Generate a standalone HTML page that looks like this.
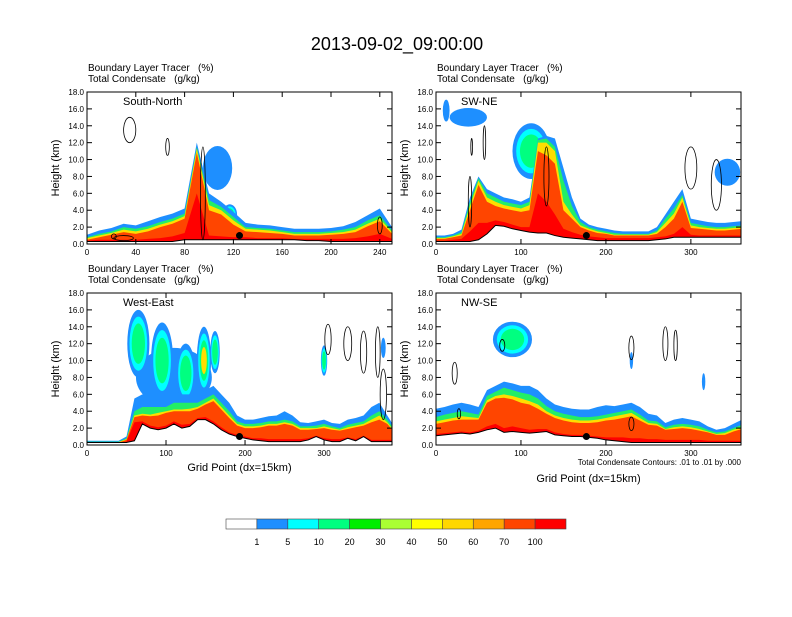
<!DOCTYPE html>
<html><head><meta charset="utf-8"><style>
body{margin:0;background:#fff}
svg text{font-family:"Liberation Sans",sans-serif;white-space:pre}
</style></head><body>
<svg id="fig" width="792" height="612" viewBox="0 0 792 612" xmlns="http://www.w3.org/2000/svg">
<text x="397" y="50" font-size="18" text-anchor="middle">2013-09-02_09:00:00</text>
<g id="panels"></g>
<g id="cbar"></g>
</svg>
<script>
const NS="http://www.w3.org/2000/svg";
const levelColors=["#1e8fff","#22ee66","#ffdd00","#ff4500","#ff0000"];
const blobColors=["#1e8fff","#00ffff","#00ff80","#ffdd00","#ff4500"];
const cbColors=["#ffffff","#1e8fff","#00ffff","#00ff80","#00ee00","#aaff33","#ffff00","#ffd700","#ffa500","#ff4500","#ff0000"];
const cbLabels=["1","5","10","20","30","40","50","60","70","100"];
const yTicks=[0,2,4,6,8,10,12,14,16,18];

// Panel 1: South-North
const p1Terrain=[0.3,0.3,0.3,0.3,0.3,0.3,0.3,0.3,0.5,0.5,0.5,0.5,0.5,0.5,0.5,0.5,0.5,0.5,0.4,0.4,0.3,0.3,0.3,0.3,0.3,0.3];
const p1Blue=[1.1,1.6,1.9,2.4,2.2,2.7,3.2,3.6,4.2,12.0,6.0,5.0,3.8,2.5,2.3,2.2,2.0,1.8,1.8,1.8,1.9,2.1,2.6,3.4,4.2,2.0];
const p1Green=[0.8,1.2,1.5,2.0,1.8,2.1,2.6,3.0,3.6,11.5,5.2,4.4,3.2,2.0,1.9,1.8,1.6,1.4,1.4,1.4,1.5,1.7,2.0,2.8,3.4,1.6];
const p1Yellow=[0.7,1.0,1.3,1.7,1.5,1.8,2.3,2.7,3.3,11.3,4.6,4.0,2.8,1.8,1.7,1.6,1.4,1.2,1.2,1.2,1.3,1.4,1.7,2.4,3.0,1.4];
const p1Orange=[0.5,0.8,1.1,1.4,1.2,1.5,2.0,2.4,3.0,10.8,4.0,3.5,2.3,1.5,1.4,1.3,1.2,1.0,1.0,1.0,1.1,1.2,1.4,2.1,2.7,1.2];
const p1Red=[0.4,0.5,0.5,0.5,0.5,0.6,0.7,0.9,1.3,6.0,1.0,0.9,0.8,0.8,0.7,0.7,0.7,0.6,0.6,0.6,0.6,0.6,0.7,0.9,1.2,0.6];
const p1Blobs=[[107,9.0,12,2.6,0],[117,3.5,6,1.2,4]];
const p1Contours=[[35,13.5,5,1.5],[95,6,2,5.5],[66,11.5,1.5,1],[240,2.2,2,1],[30,0.7,8,0.3],[22,0.9,2,0.3]];
// Panel 2: SW-NE
const p2Terrain=[0.3,0.3,0.3,0.3,0.3,0.5,1.2,2.2,2.1,1.8,1.6,1.4,1.3,1.3,1.0,0.8,0.7,0.6,0.5,0.4,0.4,0.4,0.4,0.4,0.4,0.4,0.5,0.6,0.8,0.8,0.8,0.8,0.8,0.8,0.8,0.8,0.8];
const p2Blue=[1.0,1.0,1.2,1.7,5.5,8.0,6.5,6.0,5.5,5.3,5.0,5.5,12.5,12.8,12.5,9.0,5.5,3.0,2.3,2.0,1.8,1.6,1.5,1.5,1.5,1.5,2.0,3.5,5.0,6.5,3.0,2.8,2.6,2.5,2.5,2.6,2.7];
const p2Green=[0.8,0.8,1.0,1.4,5.0,7.8,6.0,5.5,5.0,4.8,4.6,5.0,12.3,12.5,11.5,7.5,4.5,2.6,2.0,1.7,1.5,1.3,1.2,1.2,1.2,1.2,1.6,3.0,4.2,5.8,2.5,2.3,2.1,2.0,2.0,2.1,2.2];
const p2Yellow=[0.7,0.7,0.9,1.2,4.5,7.5,5.5,5.0,4.6,4.4,4.2,4.6,12.0,12.0,11.0,5.0,3.5,2.2,1.8,1.5,1.3,1.1,1.1,1.1,1.1,1.1,1.4,2.5,3.6,5.5,2.2,2.0,1.9,1.8,1.8,1.9,2.0];
const p2Orange=[0.6,0.6,0.8,1.0,4.0,7.0,5.0,4.5,4.2,4.0,3.8,4.0,11.0,10.5,9.5,4.0,3.0,2.0,1.6,1.3,1.2,1.0,1.0,1.0,1.0,1.0,1.2,2.0,3.0,5.0,1.9,1.8,1.7,1.6,1.6,1.7,1.8];
const p2Red=[0.4,0.4,0.5,0.6,1.5,2.5,2.5,2.8,2.6,2.3,2.0,2.0,6.0,5.0,3.5,1.8,1.4,1.1,0.9,0.8,0.7,0.7,0.7,0.7,0.7,0.7,0.8,0.9,1.2,2.0,1.1,1.0,1.0,1.0,1.0,1.0,1.0];
const p2Blobs=[[38,15,22,1.1,0],[12,15.8,4,1.3,0],[112,11.0,22,3.3,2],[343,8.5,15,1.6,0]];
const p2Contours=[[300,9,7,2.5],[330,7,6,3],[57,12,1.5,2],[42,11.5,1,1],[130,8,3,3.5],[40,5,2,3]];
// Panel 3: West-East
const p3Terrain=[0.3,0.3,0.3,0.3,0.3,0.3,0.5,2.5,2.0,1.8,2.0,2.5,2.0,2.2,3.0,3.0,2.5,1.8,1.3,1.0,0.8,0.6,0.5,0.4,0.4,0.4,0.4,0.4,0.6,1.0,0.6,0.4,0.4,0.8,0.5,1.0,0.4,0.4,0.4,0.4];
const p3Blue=[0.5,0.5,0.5,0.5,0.5,1.0,5.5,6,6,6,6,6.5,6,6,6,6.5,7,6,5,3.5,3.0,3.0,3.2,3.4,3.5,4.0,3.5,2.7,2.6,2.8,3.0,2.6,2.5,3.0,3.2,3.5,4.5,5.0,3.5,2.0];
const p3Green=[0.4,0.4,0.4,0.4,0.4,0.8,4.0,4.5,4.5,4.5,4.5,5,5,5,5,5.5,6,5,4,2.8,2.5,2.5,2.6,2.8,2.8,3.0,2.8,2.2,2.2,2.3,2.5,2.2,2.0,2.4,2.6,2.8,3.5,4.0,3.0,1.7];
const p3Yellow=[0.35,0.35,0.35,0.35,0.35,0.7,3.5,3.7,3.6,3.8,4,4.2,4.2,4.3,4.5,5,5.5,4.5,3.5,2.5,2.2,2.2,2.3,2.5,2.5,2.7,2.5,2.0,2.0,2.0,2.2,2.0,1.8,2.1,2.3,2.5,3.0,3.5,2.7,1.5];
const p3Orange=[0.3,0.3,0.3,0.3,0.3,0.6,3.3,3.5,3.4,3.5,3.8,4,4,4,4.3,4.8,5.2,4.2,3.2,2.3,2.0,2.0,2.1,2.3,2.3,2.5,2.3,1.8,1.8,1.9,2.0,1.8,1.7,1.9,2.1,2.3,2.7,3.0,2.5,1.4];
const p3Red=[0.3,0.3,0.3,0.3,0.3,0.4,2.7,2.8,2.3,2.1,2.3,2.8,2.4,2.5,3.2,3.3,2.8,2.1,1.5,1.2,1.0,0.8,0.8,0.7,0.7,0.7,0.7,0.7,0.8,1.1,0.8,0.7,0.7,0.9,0.7,1.1,0.6,0.6,0.6,0.6];
const p3Blobs=[[110,8,48,3.5,0],[65,12,14,4,2],[95,10,14,4.5,2],[125,8.5,12,3.5,2],[148,10,9,4,3],[162,11,6,2.5,2],[300,10,4,1.8,2],[375,11.5,3,1.2,0]];
const p3Contours=[[305,12.5,4,1.8],[330,12,5,2],[350,11,4,2.5],[368,11,3,3],[375,6,4,3]];
// Panel 4: NW-SE
const p4Terrain=[1.1,1.2,1.3,1.4,1.3,1.5,1.8,2.0,1.5,1.6,1.5,1.4,1.5,1.6,1.2,1.1,1.0,1.0,0.9,0.8,0.6,0.5,0.4,0.3,0.3,0.3,0.3,0.3,0.3,0.3,0.3,0.3,0.3,0.3,0.3,0.3,0.3];
const p4Blue=[4.3,4.5,4.8,5.0,4.8,4.5,6.5,7.0,7.5,7.3,7.0,7.0,6.5,5.5,4.8,4.5,4.3,4.2,4.2,4.5,4.7,4.6,4.8,5.0,4.5,3.7,3.5,2.6,3.0,3.2,3.0,2.8,2.2,1.8,2.0,2.5,3.0];
const p4Green=[3.3,3.6,3.8,4.0,3.8,3.6,5.8,6.3,6.8,6.5,6.2,6.0,5.5,4.6,4.0,3.7,3.5,3.3,3.3,3.4,3.6,3.8,4.0,4.2,3.6,2.9,2.8,2.1,2.4,2.5,2.4,2.2,1.8,1.5,1.6,2.0,2.4];
const p4Yellow=[2.8,3.0,3.2,3.4,3.3,3.2,5.3,5.8,6.0,5.8,5.5,5.2,4.8,4.0,3.5,3.2,3.0,2.9,2.9,3.0,3.2,3.4,3.6,3.8,3.2,2.6,2.5,1.9,2.1,2.2,2.1,1.9,1.6,1.3,1.4,1.8,2.1];
const p4Orange=[2.5,2.7,2.9,3.0,3.0,3.0,5.0,5.5,5.6,5.4,5.0,4.8,4.3,3.7,3.2,2.9,2.7,2.6,2.6,2.7,2.9,3.0,3.2,3.4,2.9,2.4,2.3,1.8,1.9,2.0,1.9,1.7,1.5,1.2,1.2,1.6,1.9];
const p4Red=[1.3,1.4,1.5,1.6,1.5,1.7,2.2,2.5,2.0,2.2,2.0,1.8,1.9,1.9,1.5,1.3,1.2,1.2,1.1,1.0,0.9,0.9,0.9,0.8,0.8,0.7,0.7,0.6,0.6,0.6,0.6,0.6,0.5,0.5,0.5,0.5,0.5];
const p4Blobs=[[90,12.5,23,2.1,2],[230,10,2,1,0],[315,7.5,2,1,0]];
const p4Contours=[[22,8.5,3,1.3],[78,11.8,3,0.7],[230,11.5,3,1.4],[270,12,3,2],[282,11.8,2,1.8],[27,3.7,2,0.6],[230,2.5,3,0.8]];

const panels=[
 {name:"south-north",label:"South-North",px:87,py:92,w:305,h:152,xmax:250,xt:[0,40,80,120,160,200,240],dot:125,
  t:p1Terrain,L:[p1Blue,p1Green,p1Yellow,p1Orange,p1Red],B:p1Blobs,C:p1Contours,xl:false},
 {name:"sw-ne",label:"SW-NE",px:436,py:92,w:305,h:152,xmax:359,xt:[0,100,200,300],dot:177,
  t:p2Terrain,L:[p2Blue,p2Green,p2Yellow,p2Orange,p2Red],B:p2Blobs,C:p2Contours,xl:false},
 {name:"west-east",label:"West-East",px:87,py:293,w:305,h:152,xmax:386,xt:[0,100,200,300],dot:193,
  t:p3Terrain,L:[p3Blue,p3Green,p3Yellow,p3Orange,p3Red],B:p3Blobs,C:p3Contours,xl:true},
 {name:"nw-se",label:"NW-SE",px:436,py:293,w:305,h:152,xmax:359,xt:[0,100,200,300],dot:177,
  t:p4Terrain,L:[p4Blue,p4Green,p4Yellow,p4Orange,p4Red],B:p4Blobs,C:p4Contours,xl:true}
];
function mk(tag,attrs,parent){const e=document.createElementNS(NS,tag);for(const k in attrs)e.setAttribute(k,attrs[k]);parent.appendChild(e);return e;}
const root=document.getElementById("panels");
panels.forEach((p,pi)=>{
 const g=mk("g",{},root);
 
 
 const sx=v=>p.px+v/p.xmax*p.w, sy=v=>p.py+p.h-v/18*p.h;
 const cid="clip"+pi;
 const cp=mk("clipPath",{id:cid},g);mk("rect",{x:p.px,y:p.py,width:p.w,height:p.h},cp);
 const pg=mk("g",{"clip-path":"url(#"+cid+")"},g);
 p.B.forEach(b=>{for(let k=0;k<=b[4];k++){const f=1-k*0.2;
   const e=mk("ellipse",{cx:sx(b[0]),cy:sy(b[1]),rx:b[2]/p.xmax*p.w*f,ry:b[3]/18*p.h*f,fill:blobColors[k]},pg);
   
   }});
 p.L.forEach((arr,li)=>{
   let d="";arr.forEach((v,i)=>{d+=(i?"L":"M")+sx(i*10)+","+sy(v);});
   for(let i=p.t.length-1;i>=0;i--)d+="L"+sx(i*10)+","+sy(p.t[i]);
   const e=mk("path",{d:d+"Z",fill:levelColors[li]},pg);
   
   
 });
 let td="";p.t.forEach((v,i)=>{td+=(i?"L":"M")+sx(i*10)+","+sy(v);});
 td+="L"+sx((p.t.length-1)*10)+","+sy(0)+"L"+sx(0)+","+sy(0)+"Z";
 const tr=mk("path",{d:td,fill:"#fff",stroke:"#000","stroke-width":1},pg);
 
 
 p.C.forEach(c=>{const e=mk("ellipse",{cx:sx(c[0]),cy:sy(c[1]),rx:c[2]/p.xmax*p.w,ry:c[3]/18*p.h,fill:"none",stroke:"#000","stroke-width":0.8},pg);
   
   });
 const dot=mk("circle",{cx:sx(p.dot),cy:sy(1.0),r:3.5,fill:"#000"},pg);
 
 
 const fr=mk("rect",{x:p.px,y:p.py,width:p.w,height:p.h,fill:"none",stroke:"#000","stroke-width":1},g);
 
 
 yTicks.forEach(v=>{const y=sy(v);
   mk("line",{x1:p.px,x2:p.px+5,y1:y,y2:y,stroke:"#000"},g);
   mk("line",{x1:p.px+p.w-5,x2:p.px+p.w,y1:y,y2:y,stroke:"#000"},g);
   const t=mk("text",{x:p.px-3,y:y+3,"font-size":8,"text-anchor":"end"},g);t.textContent=v.toFixed(1);
   
   });
 p.xt.forEach(v=>{const x=sx(v);
   mk("line",{x1:x,x2:x,y1:p.py+p.h,y2:p.py+p.h-5,stroke:"#000"},g);
   mk("line",{x1:x,x2:x,y1:p.py,y2:p.py+5,stroke:"#000"},g);
   const t=mk("text",{x:x,y:p.py+p.h+11,"font-size":8,"text-anchor":"middle"},g);t.textContent=v;
   
   });
 const s1=mk("text",{x:p.px+1,y:p.py-21,"font-size":10},g);s1.textContent="Boundary Layer Tracer\u00a0\u00a0\u00a0(%)";
 
 
 const s2=mk("text",{x:p.px+1,y:p.py-10,"font-size":10},g);s2.textContent="Total Condensate\u00a0\u00a0\u00a0(g/kg)";
 
 
 const lb=mk("text",{x:p.px+(pi%2?25:36),y:p.py+13,"font-size":11},g);lb.textContent=p.label;
 
 
 const yl=mk("text",{x:0,y:0,"font-size":11,"text-anchor":"middle",transform:"translate("+(p.px-28)+","+(p.py+p.h/2)+") rotate(-90)"},g);yl.textContent="Height (km)";
 
 
 if(p.xl){const xl=mk("text",{x:p.px+p.w/2,y:pi==3?482:471,"font-size":11,"text-anchor":"middle"},g);xl.textContent="Grid Point (dx=15km)";
   
   }
 if(pi==3){const n=mk("text",{x:741,y:465,"font-size":8,"text-anchor":"end"},g);n.textContent="Total Condensate Contours: .01 to .01 by .000";
   
   }
});
const cb=document.getElementById("cbar");
const bw=340/cbColors.length;
cbColors.forEach((c,i)=>{const r=mk("rect",{x:226+i*bw,y:519,width:bw,height:10,fill:c,stroke:"#444","stroke-width":0.6},cb);
 
 });
cbLabels.forEach((l,i)=>{const t=mk("text",{x:226+(i+1)*bw,y:545,"font-size":9,"text-anchor":"middle"},cb);t.textContent=l;
 
 });
</script>
</body></html>
